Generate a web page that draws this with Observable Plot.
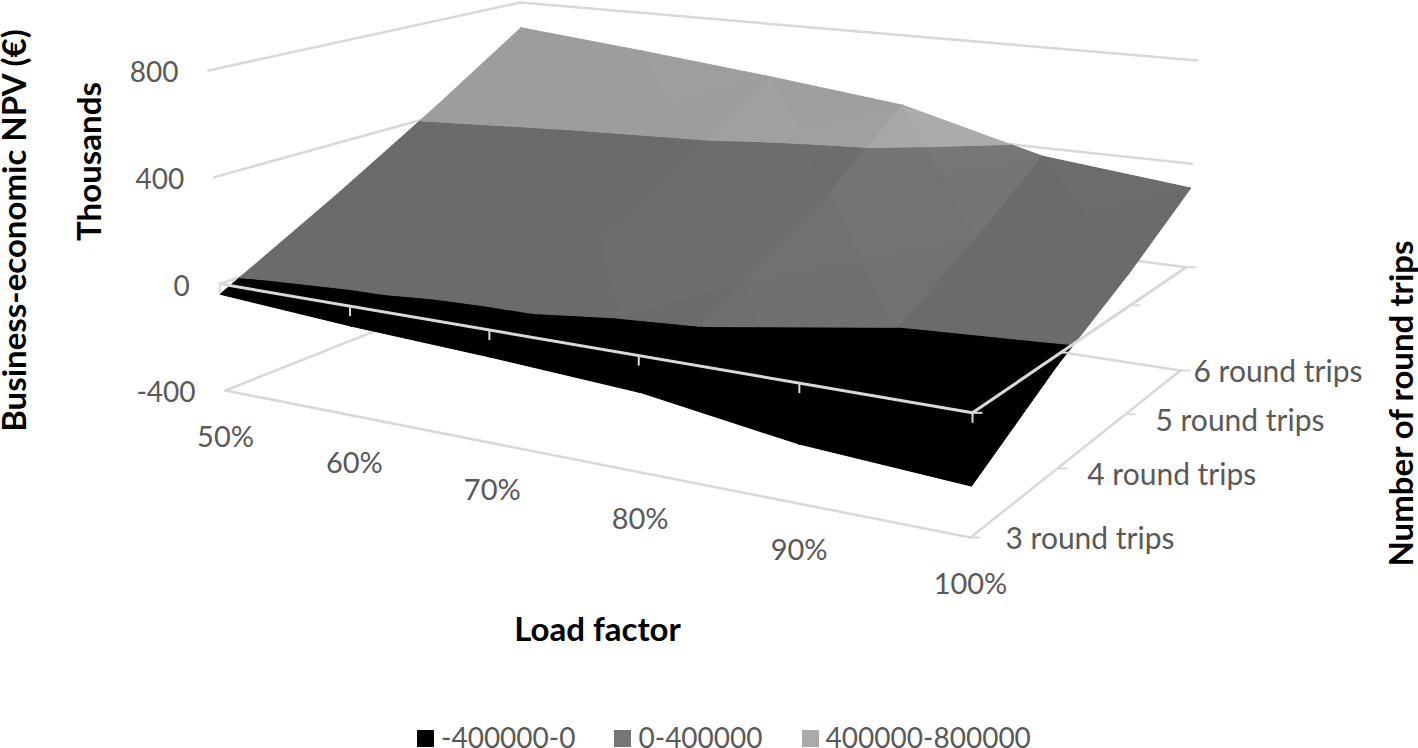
<!DOCTYPE html>
<html><head><meta charset="utf-8">
<script src="https://cdn.jsdelivr.net/npm/d3@7"></script>
<script src="https://cdn.jsdelivr.net/npm/@observablehq/plot@0.6"></script>
<style>
html,body{margin:0;padding:0;background:#fff;overflow:hidden}
#legend{display:flex;height:21px;padding-left:417px;font:28px Lato,sans-serif;color:#595959;line-height:20px;white-space:nowrap}
#legend span.s{display:inline-block;width:17px;height:17px;margin:3px 7px 0 0;vertical-align:top}
#legend div{margin-right:39px;height:20px}
</style></head><body>
<div id="chart"></div><div id="legend"></div>
<script>
const loadFactors = ["50%","60%","70%","80%","90%","100%"];
const roundTrips = ["3 round trips","4 round trips","5 round trips","6 round trips"];
const npvLevels = [-400,0,400,800];
// NPV in thousands of euro, one array per number of round trips
const npv3 = [-39,-72,-95,-125,-202,-235];
const npv4 = [203,180,155,83,-8,-35];
const npv5 = [445,396,353,280,170,125];
const npv6 = [687,634,577,513,366,306];
const npv = [npv3,npv4,npv5,npv6];
const bands = [
  {name:"-400000-0",lo:-400,hi:0,base:0,gain:0,swatch:"#000000"},
  {name:"0-400000",lo:0,hi:400,base:107,gain:14,swatch:"#767676"},
  {name:"400000-800000",lo:400,hi:800,base:157,gain:16,swatch:"#aaaaaa"}
];

// 3D box projected on the page: corners at the lowest and highest NPV level
const box = {
  FL:[[225,390],[208,70]], FR:[[970,537],[976,163]],
  BL:[[527,270],[520,2]],  BR:[[1180,370],[1197,60]]
};
const warp = (t,a) => t/(t+(1-t)*a);
function proj(i,j,z,depth=0.75){
  const v = warp(j/(roundTrips.length-1),depth);
  const u = warp(i/(loadFactors.length-1),1.195-0.05*v);
  const w = (z+400)/1200;
  const at = k => {
    const f = c => box.FL[k][c]*(1-u)*(1-v)+box.FR[k][c]*u*(1-v)+box.BL[k][c]*(1-u)*v+box.BR[k][c]*u*v;
    return [f(0),f(1)];
  };
  const a = at(0), b = at(1);
  return [a[0]+(b[0]-a[0])*w, a[1]+(b[1]-a[1])*w];
}

// Split the surface in triangles and cut them at the band limits
function clip(poly,lo,hi){
  const cut = (p,inside,lim)=>{
    const out=[];
    p.forEach((a,k)=>{
      const b=p[(k+1)%p.length];
      if(inside(a)) out.push(a);
      if(inside(a)!==inside(b)){
        const t=(lim-a.z)/(b.z-a.z);
        out.push({x:a.x+(b.x-a.x)*t,y:a.y+(b.y-a.y)*t,z:lim});
      }
    });
    return out;
  };
  let r=cut(poly,d=>d.z>=lo,lo);
  if(r.length) r=cut(r,d=>d.z<=hi,hi);
  return r;
}
const surface=[];
let pid=0;
for(let j=0;j<roundTrips.length-1;j++) for(let i=0;i<loadFactors.length-1;i++){
  const c=[[i,j],[i+1,j],[i+1,j+1],[i,j+1]].map(([a,b])=>{
    const z=npv[b][a],p=proj(a,b,z);return {x:p[0],y:p[1],z,a,b};
  });
  const zc=d3.mean(c,d=>d.z),pc=proj(i+.5,j+.5,zc);
  const m={x:pc[0],y:pc[1],z:zc,a:i+.5,b:j+.5};
  for(let k=0;k<4;k++){
    const p=c[k],q=c[(k+1)%4];
    // slope along the load factor of this facet, used as light
    const det=(q.a-p.a)*(m.b-p.b)-(m.a-p.a)*(q.b-p.b);
    const dzdu=((q.z-p.z)*(m.b-p.b)-(m.z-p.z)*(q.b-p.b))/det;
    const lit=Math.max(0,Math.min(1,(-dzdu-50)/110));
    for(const b of bands){
      const r=clip([p,q,m],b.lo,b.hi);
      if(r.length<3) continue;
      const g=Math.round(b.base+b.gain*lit);
      pid++;
      [...r,r[0]].forEach(d=>surface.push({id:pid,x:d.x,y:d.y,fill:`rgb(${g},${g},${g})`}));
    }
  }
}

// Walls and floor
const lastI=loadFactors.length-1,lastJ=roundTrips.length-1;
const grid=[];
const addLine=(id,pts)=>pts.forEach(([i,j,z])=>{const p=proj(i,j,z);grid.push({id,x:p[0],y:p[1]});});
npvLevels.forEach(z=>addLine("wall"+z,[[0,0,z],[0,lastJ,z],[lastI,lastJ,z]]));
addLine("floor",[[0,0,-400],[lastI,0,-400],[lastI,lastJ,-400]]);
const axis=[];
[[0,0,0],[lastI,0,0],[lastI,lastJ,0]].forEach(([i,j,z])=>{const p=proj(i,j,z);axis.push({x:p[0],y:p[1]});});

const xTicks=loadFactors.map((label,i)=>({label,p:proj(i,0,0),f:proj(i,0,-400)}));
const yTicks=roundTrips.map((label,j)=>({label,p:proj(lastI,j,0,0.71),f:proj(lastI,j,-400,0.71)}));
const zTicks=npvLevels.map(z=>({label:String(z),p:proj(0,0,z)}));
const tripNudgeX=[35,30,30,13], tripNudgeY=[2,7,7,2];

const FONT="Lato, sans-serif", GREY="#595959", LINE="#d9d9d9";
const titles=[
  {t:"Business-economic NPV (€)",x:15,y:230,r:-90},
  {t:"Thousands",x:90,y:161,r:-90},
  {t:"Number of round trips",x:1402,y:403,r:-90},
  {t:"Load factor",x:597,y:630,r:0}
];

const chart=Plot.plot({
  width:1418,height:727,margin:0,
  x:{domain:[0,1418],range:[0,1418],axis:null},
  y:{domain:[0,727],range:[0,727],axis:null},
  marks:[
    Plot.line(grid,{x:"x",y:"y",z:"id",stroke:LINE,strokeWidth:2.5}),
    Plot.link(yTicks,{x1:d=>d.f[0],y1:d=>d.f[1],x2:d=>d.f[0]+10,y2:d=>d.f[1],stroke:LINE,strokeWidth:2}),
    Plot.line(surface,{x:"x",y:"y",z:"id",fill:"fill",stroke:"fill",strokeWidth:1.1}),
    Plot.line(axis,{x:"x",y:"y",stroke:LINE,strokeWidth:3}),
    Plot.link(xTicks,{x1:d=>d.p[0],y1:d=>d.p[1],x2:d=>d.p[0],y2:d=>d.p[1]+10,stroke:LINE,strokeWidth:2}),
    Plot.link(yTicks,{x1:d=>d.p[0],y1:d=>d.p[1],x2:d=>d.p[0]+10,y2:d=>d.p[1],stroke:LINE,strokeWidth:2}),
    Plot.text(zTicks,{x:d=>d.p[0],y:d=>d.p[1],text:"label",dx:-30,dy:3,textAnchor:"end",fontSize:28,fill:GREY,fontFamily:FONT}),
    Plot.text(xTicks,{x:d=>d.f[0],y:d=>d.f[1],text:"label",dy:47.5,fontSize:29,fill:GREY,fontFamily:FONT}),
    Plot.text(yTicks,{x:(d,k)=>d.f[0]+tripNudgeX[k],y:(d,k)=>d.f[1]+tripNudgeY[k],text:"label",textAnchor:"start",fontSize:30,fill:GREY,fontFamily:FONT}),
    Plot.text(titles,{x:"x",y:"y",text:"t",rotate:"r",fontSize:33,fontWeight:"bold",fill:"#000",fontFamily:FONT})
  ]
});
document.getElementById("chart").appendChild(chart);
chart.style.display="block";
const lg=document.getElementById("legend");
bands.forEach(b=>{
  const d=document.createElement("div");
  const s=document.createElement("span");s.className="s";s.style.background=b.swatch;
  d.appendChild(s);d.appendChild(document.createTextNode(b.name));lg.appendChild(d);
});
</script></body></html>
